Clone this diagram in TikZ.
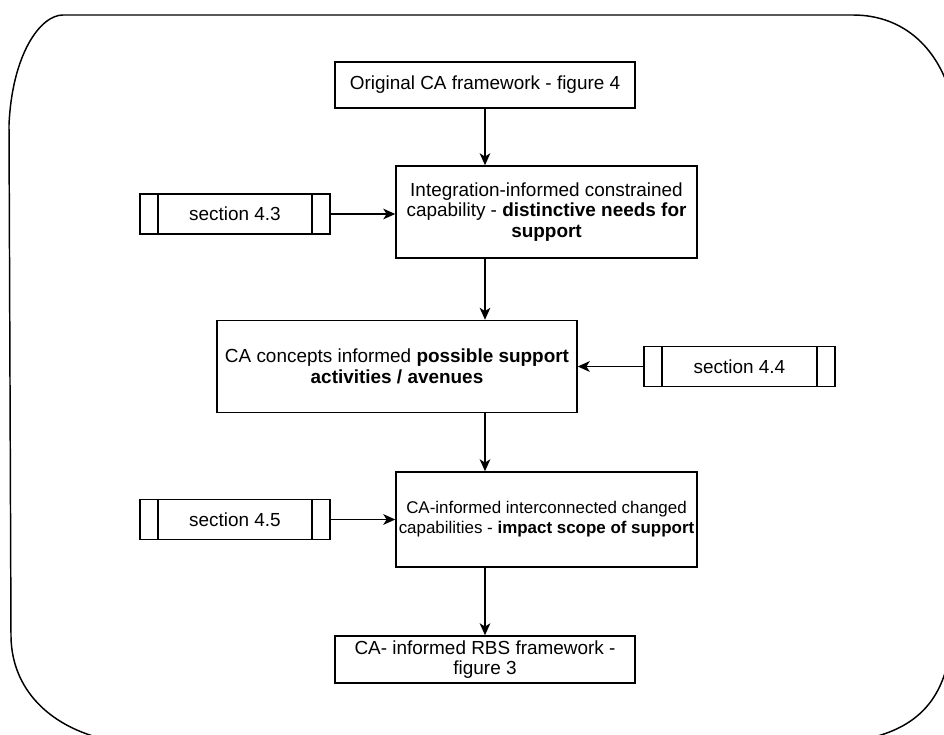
\documentclass[tikz,border=0pt]{standalone}
\usepackage{fontspec}
\setmainfont{Liberation Sans}
\usetikzlibrary{arrows.meta}

\tikzset{
  box/.style={draw, line width=1.1pt, rectangle, align=center, inner sep=2pt,
    font=\fontsize{14.2}{15.5}\selectfont},
  procbox/.style={box, minimum width=142.5pt, minimum height=30pt,
    path picture={
      \draw[line width=1.1pt]
        ([xshift=13.5pt]path picture bounding box.north west) --
        ([xshift=13.5pt]path picture bounding box.south west);
      \draw[line width=1.1pt]
        ([xshift=-13.5pt]path picture bounding box.north east) --
        ([xshift=-13.5pt]path picture bounding box.south east);
    }},
  flow/.style={draw, line width=1.1pt,
    -{Stealth[length=9pt, width=8pt, inset=2.5pt]}},
  frame/.style={draw, line width=1.1pt}
}

\begin{document}
\begin{tikzpicture}[x=0.75pt, y=-0.75pt]
\useasboundingbox (0,0) rectangle (944,734);

% outer rounded frame, partly running off the page
\begin{scope}
  \clip (0,0) rectangle (944,734);
  \path[frame] (63,15) -- (853,15)
    .. controls (905,15) and (940,50) .. (952,100)
    -- (952,620)
    .. controls (952,690) and (925,725) .. (870,738)
    -- (100,738)
    .. controls (50,725) and (12,690) .. (11,637)
    -- (9,125)
    .. controls (12,55) and (40,15) .. (63,15) -- cycle;
\end{scope}

\coordinate (spine) at (485,0);

\node[box, minimum width=225pt, minimum height=34.5pt] (orig) at (485,85)
  {Original CA framework - figure 4};

\node[box, minimum width=225.75pt, minimum height=69pt] (needs) at (546.5,212)
  {Integration-informed constrained\\
   capability - \textbf{distinctive needs for}\\
   \textbf{support}};

\node[procbox] (s43) at (235,214) {section 4.3};

\node[box, minimum width=270pt, minimum height=69pt] (avenues) at (397,366.5)
  {CA concepts informed \textbf{possible support}\\
   \textbf{activities / avenues}};

\node[procbox, minimum width=143.25pt] (s44) at (739.5,366.5) {section 4.4};

\node[box, minimum width=225.75pt, minimum height=71.25pt, inner sep=0.5pt,
      font=\fontsize{12.7}{15}\selectfont] (impact) at (546.5,519.5)
  {CA-informed interconnected changed\\
   capabilities - \textbf{impact scope of support}};

\node[procbox] (s45) at (235,519.5) {section 4.5};

\node[box, minimum width=225pt, minimum height=35.25pt] (rbs) at (485,659.5)
  {CA- informed RBS framework -\\ figure 3};

% main flow down the spine
\draw[flow] (orig.south -| spine) -- (needs.north -| spine);
\draw[flow] (needs.south -| spine) -- (avenues.north -| spine);
\draw[flow] (avenues.south -| spine) -- (impact.north -| spine);
\draw[flow] (impact.south -| spine) -- (rbs.north -| spine);

% section inputs
\draw[flow] (s43.east) -- (needs.west |- s43.east);
\draw[flow] (s44.west) -- (avenues.east |- s44.west);
\draw[flow] (s45.east) -- (impact.west |- s45.east);
\end{tikzpicture}
\end{document}
